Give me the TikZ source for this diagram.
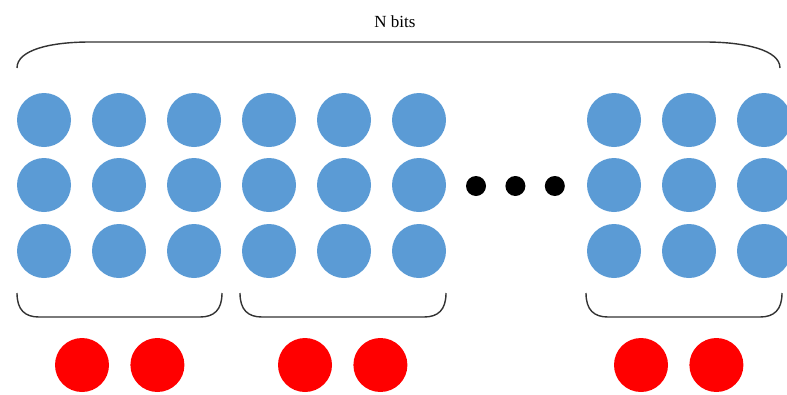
\documentclass[tikz,border=0pt]{standalone}
\usepackage{fontspec}
\setmainfont{Liberation Serif}
\usetikzlibrary{positioning}
\definecolor{bitblue}{RGB}{91,155,213}
\definecolor{checkred}{RGB}{255,0,0}

\begin{document}
\begin{tikzpicture}[
            x=1pt, y=-1pt,
            node distance=21pt,
            bit/.style={circle, fill=bitblue, inner sep=0pt, minimum size=54pt},
            chk/.style={circle, fill=checkred, inner sep=0pt, minimum size=54pt},
            gapdot/.style={circle, fill=black, inner sep=0pt, minimum size=20pt},
            brace/.style={draw=black!80, line width=1.4pt},
            lbl/.style={font=\fontsize{17}{20}\selectfont, inner sep=1pt}
        ]
            \useasboundingbox (0,0) rectangle (787,394);
            \clip (0,0) rectangle (787,394);

            % data bits, three rows per column
            \foreach \c/\x in {1/44,2/119,3/194,4/269,5/344,6/419,7/614,8/689,9/764}
                \foreach \r/\y in {1/120,2/185,3/251}
                    \node[bit] (b\c\r) at (\x,\y) {};

            % the gap between the groups
            \node[gapdot] (d1) at (476,186) {};
            \node[gapdot, right=19pt of d1] (d2) {};
            \node[gapdot, right=19pt of d2] (d3) {};

            % check bits under each group
            \node[chk] (k1) at (82,365) {};
            \node[chk, right=of k1] (k2) {};
            \node[chk] (k3) at (305,365) {};
            \node[chk, right=of k3] (k4) {};
            \node[chk] (k5) at (641,365) {};
            \node[chk, right=of k5] (k6) {};

            \node[lbl] (nbits) at (395,22) {N bits};

            % top brace over all bits
            \draw[brace] (17,68) .. controls (17,50) and (50,42) .. (90,42)
                -- (705,42) .. controls (745,42) and (780,50) .. (780,68);

            % group braces
            \foreach \a/\b in {17/222, 240/446, 586/782}
                \draw[brace] (\a,293) .. controls (\a,310) and (\a+8,317) .. (\a+22,317)
                    -- (\b-22,317) .. controls (\b-8,317) and (\b,310) .. (\b,293);
        \end{tikzpicture}
\end{document}
